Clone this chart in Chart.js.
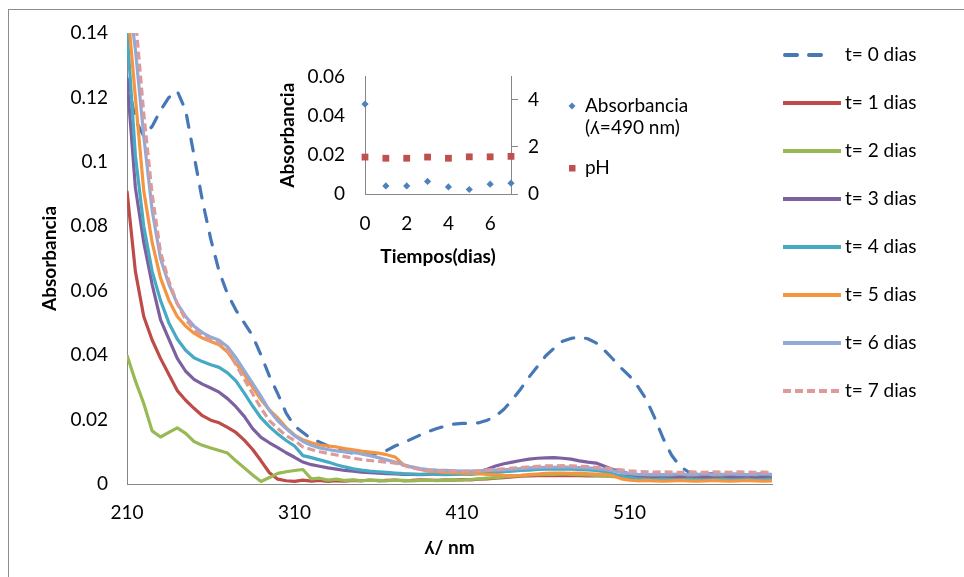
<!DOCTYPE html>
<html>
<head>
<meta charset="utf-8">
<script src="https://cdn.jsdelivr.net/npm/chart.js@4.4.1/dist/chart.umd.min.js"></script>
<style>
  body { margin: 0; background: #fff; }
  #wrap { position: relative; width: 964px; height: 577px; overflow: hidden; background: #fff; }
  #frame { position: absolute; left: 8px; top: 9px; width: 990px; height: 600px; border: 1px solid #8c8c8c; }
  #main { position: absolute; left: 0; top: 0; }
  #inset { position: absolute; left: 262px; top: 45px; }
</style>
</head>
<body>
<div id="wrap">
  <div id="frame"></div>
  <canvas id="main" width="964" height="577"></canvas>
  <canvas id="inset" width="440" height="230"></canvas>
</div>
<script>
// longitud de onda (nm), cada 5 nm
const wavelengths = [210,215,220,225,230,235,240,245,250,255,260,265,270,275,280,285,290,295,300,
  305,310,315,320,325,330,335,340,345,350,355,360,365,370,375,380,385,390,395,400,
  405,410,415,420,425,430,435,440,445,450,455,460,465,470,475,480,485,490,495,500,
  505,510,515,520,525,530,535,540,545,550,555,560,565,570,575,580,585,590,595];

const t0Dias = [0.126,0.113,0.108,0.111,0.116,0.120,0.122,0.116,0.102,0.088,0.076,0.066,0.059,0.054,0.050,0.046,0.040,0.0335,0.028,
  0.022,0.018,0.016,0.014,0.013,0.0118,0.0108,0.0101,0.0095,0.0093,0.0090,0.0094,0.0104,0.0118,0.0128,0.0140,0.0152,0.0163,0.0172,0.0180,
  0.0186,0.0188,0.0188,0.0190,0.0198,0.0210,0.0232,0.0262,0.0295,0.0332,0.0365,0.0398,0.0422,0.0443,0.0452,0.0456,0.0451,0.0438,0.0415,0.0388,
  0.0360,0.0335,0.0302,0.0262,0.0205,0.0142,0.0090,0.0055,0.0038,0.0032,0.0030,0.0032,0.0029,0.0030,0.0031,0.0028,0.0030,0.0031,0.0030];

const t1Dias = [0.091,0.066,0.052,0.0447,0.039,0.034,0.029,0.026,0.0235,0.0212,0.0198,0.0190,0.0176,0.0160,0.0136,0.0107,0.0072,0.0035,0.0015,
  0.0010,0.0008,0.0012,0.0009,0.0011,0.0008,0.0010,0.0009,0.0011,0.0010,0.0012,0.0010,0.0011,0.0012,0.0010,0.0011,0.0013,0.0012,0.0011,0.0013,
  0.0012,0.0014,0.0013,0.0015,0.0016,0.0018,0.0020,0.0022,0.0024,0.0025,0.0026,0.0026,0.0027,0.0026,0.0027,0.0026,0.0025,0.0026,0.0025,0.0024,
  0.0025,0.0024,0.0026,0.0025,0.0027,0.0026,0.0028,0.0027,0.0026,0.0028,0.0027,0.0029,0.0026,0.0028,0.0030,0.0027,0.0029,0.0031,0.0028];

const t2Dias = [0.040,0.032,0.025,0.0165,0.0146,0.0160,0.0174,0.0157,0.0132,0.0120,0.0112,0.0104,0.0096,0.0072,0.0050,0.0028,0.0008,0.0020,0.0033,
  0.0038,0.0042,0.0045,0.0016,0.0018,0.0012,0.0015,0.0011,0.0013,0.0010,0.0012,0.0011,0.0010,0.0012,0.0011,0.0010,0.0011,0.0012,0.0010,0.0012,
  0.0013,0.0012,0.0014,0.0016,0.0018,0.0020,0.0022,0.0024,0.0026,0.0028,0.0029,0.0030,0.0030,0.0031,0.0030,0.0029,0.0028,0.0027,0.0025,0.0023,
  0.0021,0.0020,0.0019,0.0018,0.0019,0.0018,0.0019,0.0018,0.0020,0.0019,0.0018,0.0020,0.0019,0.0018,0.0020,0.0019,0.0018,0.0020,0.0019];

const t3Dias = [0.126,0.092,0.075,0.062,0.051,0.045,0.039,0.035,0.0325,0.0310,0.0298,0.0285,0.0265,0.0240,0.0210,0.0172,0.0145,0.0128,0.0113,
  0.0097,0.0083,0.0068,0.0060,0.0055,0.0050,0.0046,0.0042,0.0040,0.0037,0.0035,0.0034,0.0032,0.0031,0.0030,0.0030,0.0029,0.0030,0.0031,0.0030,
  0.0032,0.0031,0.0033,0.0038,0.0046,0.0056,0.0063,0.0068,0.0073,0.0077,0.0080,0.0081,0.0082,0.0080,0.0077,0.0072,0.0068,0.0065,0.0055,0.0045,
  0.0040,0.0030,0.0022,0.0019,0.0018,0.0019,0.0018,0.0020,0.0019,0.0018,0.0020,0.0019,0.0018,0.0020,0.0019,0.0021,0.0019,0.0020,0.0019];

const t4Dias = [0.141,0.102,0.080,0.066,0.057,0.050,0.045,0.0415,0.0392,0.0380,0.0370,0.0362,0.0345,0.0320,0.0282,0.0242,0.0205,0.0178,0.0155,
  0.0135,0.0118,0.0088,0.0082,0.0075,0.0068,0.0060,0.0053,0.0047,0.0043,0.0040,0.0038,0.0036,0.0034,0.0032,0.0031,0.0030,0.0031,0.0030,0.0029,
  0.0030,0.0031,0.0030,0.0032,0.0034,0.0036,0.0038,0.0040,0.0042,0.0043,0.0045,0.0046,0.0046,0.0047,0.0046,0.0045,0.0044,0.0042,0.0038,0.0032,
  0.0025,0.0020,0.0017,0.0015,0.0014,0.0015,0.0014,0.0013,0.0015,0.0014,0.0013,0.0014,0.0015,0.0013,0.0014,0.0015,0.0013,0.0014,0.0015];

const t5Dias = [0.150,0.120,0.091,0.075,0.064,0.057,0.052,0.0490,0.0468,0.0453,0.0442,0.0432,0.0410,0.0375,0.0340,0.0300,0.0262,0.0230,0.0205,
  0.0175,0.0152,0.0137,0.0128,0.0121,0.0118,0.0115,0.0110,0.0106,0.0102,0.0099,0.0096,0.0091,0.0084,0.0060,0.0052,0.0045,0.0040,0.0038,0.0036,
  0.0035,0.0034,0.0033,0.0032,0.0030,0.0029,0.0027,0.0026,0.0027,0.0029,0.0031,0.0033,0.0034,0.0034,0.0033,0.0034,0.0032,0.0031,0.0030,0.0026,
  0.0016,0.0012,0.0010,0.0011,0.0010,0.0009,0.0010,0.0011,0.0010,0.0009,0.0010,0.0011,0.0010,0.0009,0.0010,0.0011,0.0010,0.0009,0.0010];

const t6Dias = [0.155,0.135,0.108,0.085,0.070,0.062,0.056,0.052,0.049,0.0470,0.0456,0.0446,0.0426,0.0392,0.0352,0.0312,0.0272,0.0228,0.0196,
  0.0172,0.0150,0.0132,0.0120,0.0112,0.0107,0.0103,0.0100,0.0098,0.0093,0.0088,0.0082,0.0075,0.0068,0.0060,0.0053,0.0048,0.0045,0.0043,0.0042,
  0.0041,0.0040,0.0040,0.0041,0.0042,0.0043,0.0044,0.0046,0.0048,0.0050,0.0051,0.0052,0.0052,0.0053,0.0052,0.0051,0.0050,0.0048,0.0045,0.0041,
  0.0036,0.0032,0.0030,0.0029,0.0030,0.0029,0.0030,0.0031,0.0029,0.0030,0.0031,0.0029,0.0030,0.0031,0.0030,0.0029,0.0030,0.0031,0.0030];

const t7Dias = [0.160,0.145,0.115,0.090,0.072,0.063,0.056,0.051,0.048,0.0460,0.0447,0.0437,0.0415,0.0370,0.0325,0.0280,0.0235,0.0197,0.0172,
  0.0150,0.0135,0.0115,0.0107,0.0100,0.0095,0.0090,0.0085,0.0080,0.0076,0.0073,0.0070,0.0068,0.0065,0.0058,0.0050,0.0045,0.0042,0.0041,0.0040,
  0.0040,0.0039,0.0040,0.0041,0.0043,0.0045,0.0047,0.0049,0.0051,0.0053,0.0055,0.0056,0.0056,0.0057,0.0056,0.0055,0.0054,0.0052,0.0050,0.0047,
  0.0044,0.0041,0.0039,0.0038,0.0037,0.0038,0.0037,0.0036,0.0038,0.0037,0.0036,0.0038,0.0037,0.0036,0.0038,0.0037,0.0036,0.0037,0.0036];

const seriesLabels = ['t= 0 dias','t= 1 dias','t= 2 dias','t= 3 dias','t= 4 dias','t= 5 dias','t= 6 dias','t= 7 dias'];
const xTicks = [210, 310, 410, 510];
const yTicks = [0, 0.02, 0.04, 0.06, 0.08, 0.1, 0.12, 0.14];

// grafico pequeño
const dias = [0, 1, 2, 3, 4, 5, 6, 7];
const absorbancia490 = [0.0459, 0.0041, 0.0041, 0.0064, 0.0036, 0.0023, 0.0050, 0.0055];
const ph = [1.57, 1.52, 1.52, 1.57, 1.52, 1.58, 1.58, 1.60];
const diasTicks = [0, 2, 4, 6];
const absTicks = [0, 0.02, 0.04, 0.06];
const phTicks = [0, 2, 4];

const FONT = "Lato, 'DejaVu Sans', sans-serif";
Chart.defaults.font.family = FONT;
Chart.defaults.color = '#000';

const colores = ['#4677B6', '#BE4B48', '#98B954', '#7D60A0', '#46AAC5', '#F59540', '#93A9D7', '#DC9A98'];
const dashes = [[12, 12], [], [], [], [], [], [], [8, 4]];
const caps = ['round', 'butt', 'butt', 'butt', 'butt', 'butt', 'butt', 'butt'];
const series = [t0Dias, t1Dias, t2Dias, t3Dias, t4Dias, t5Dias, t6Dias, t7Dias];

const toPoints = ys => ys.map((y, i) => ({ x: wavelengths[i], y: y }));
const fmt = v => String(+(+v).toFixed(2));

const sideLegend = {
    id: 'sideLegend',
    afterDraw(chart) {
        const ctx = chart.ctx;
        ctx.save();
        chart.data.datasets.forEach((ds, i) => {
            const y = 55 + i * 48;
            ctx.beginPath();
            ctx.setLineDash(ds.borderDash || []);
            ctx.lineCap = ds.borderCapStyle;
            ctx.lineWidth = 4;
            ctx.strokeStyle = ds.borderColor;
            ctx.moveTo(i === 0 ? 785 : 783, y);
            ctx.lineTo(i === 0 ? 828 : 841, y);
            ctx.stroke();
            ctx.setLineDash([]);
            ctx.fillStyle = '#000';
            ctx.font = '19px ' + FONT;
            ctx.textBaseline = 'middle';
            ctx.fillText(ds.label, 845, y);
        });
        ctx.restore();
    }
};

new Chart(document.getElementById('main'), {
    type: 'line',
    data: {
        datasets: series.map((s, i) => ({
            label: seriesLabels[i],
            data: toPoints(s),
            borderColor: colores[i],
            backgroundColor: colores[i],
            borderWidth: 3.2,
            borderDash: dashes[i],
            borderCapStyle: caps[i],
            borderJoinStyle: 'round',
            pointRadius: 0,
            fill: false,
            tension: 0,
            order: 7 - i
        }))
    },
    options: {
        responsive: false,
        animation: false,
        devicePixelRatio: 1,
        layout: { padding: { top: 33, right: 192, left: 0, bottom: 0 } },
        plugins: { legend: { display: false }, tooltip: { enabled: false } },
        scales: {
            x: {
                type: 'linear', min: 210, max: 595,
                afterBuildTicks: s => { s.ticks = xTicks.map(v => ({ value: v })); },
                afterFit: s => { s.height = 93; },
                grid: { display: false, drawTicks: false },
                border: { display: true, color: '#868686', width: 1 },
                ticks: { padding: 17, font: { size: 19 }, autoSkip: false, maxRotation: 0, callback: v => String(v) },
                title: { display: true, text: 'ʎ/ nm', font: { size: 19, weight: 'bold' }, padding: { top: 0, bottom: 17.6 } }
            },
            y: {
                min: 0, max: 0.14,
                afterBuildTicks: s => { s.ticks = yTicks.map(v => ({ value: v })); },
                afterFit: s => { s.width = 127; },
                grid: { display: false, drawTicks: false },
                border: { display: true, color: '#868686', width: 1 },
                ticks: { padding: 19, font: { size: 19 }, callback: fmt },
                title: { display: true, text: 'Absorbancia', font: { size: 19, weight: 'bold' }, padding: { top: 38.6, bottom: 0 } }
            }
        }
    },
    plugins: [sideLegend]
});

const insetLegend = {
    id: 'insetLegend',
    afterDraw(chart) {
        const ctx = chart.ctx;
        ctx.save();
        ctx.fillStyle = '#4F81BD';
        ctx.beginPath();
        ctx.moveTo(310, 57.5); ctx.lineTo(313.5, 61); ctx.lineTo(310, 64.5); ctx.lineTo(306.5, 61);
        ctx.closePath(); ctx.fill();
        ctx.fillStyle = '#C0504D';
        ctx.fillRect(307, 120, 6.5, 6.5);
        ctx.fillStyle = '#000';
        ctx.font = '19px ' + FONT;
        ctx.textBaseline = 'middle';
        ctx.fillText('Absorbancia', 323, 61);
        ctx.fillText('(ʎ=490 nm)', 323, 83);
        ctx.fillText('pH', 323, 123);
        ctx.restore();
    }
};

new Chart(document.getElementById('inset'), {
    type: 'scatter',
    data: {
        datasets: [
            {
                label: 'Absorbancia (ʎ=490 nm)',
                data: dias.map((d, i) => ({ x: d, y: absorbancia490[i] })),
                yAxisID: 'y',
                pointStyle: 'rectRot', pointRadius: 3.6,
                backgroundColor: '#4F81BD', borderColor: '#4F81BD', borderWidth: 0,
                clip: false
            },
            {
                label: 'pH',
                data: dias.map((d, i) => ({ x: d, y: ph[i] })),
                yAxisID: 'y1',
                pointStyle: 'rect', pointRadius: 4.8,
                backgroundColor: '#C0504D', borderColor: '#C0504D', borderWidth: 0,
                clip: false
            }
        ]
    },
    options: {
        responsive: false,
        animation: false,
        devicePixelRatio: 1,
        layout: { padding: { top: 18, right: 131, left: 0, bottom: 0 } },
        plugins: { legend: { display: false }, tooltip: { enabled: false } },
        scales: {
            x: {
                type: 'linear', min: 0, max: 7,
                afterBuildTicks: s => { s.ticks = diasTicks.map(v => ({ value: v })); },
                afterFit: s => { s.height = 81; },
                grid: { display: false, drawTicks: false },
                border: { display: true, color: '#868686', width: 1 },
                ticks: { padding: 18, font: { size: 19 }, callback: v => String(v) },
                title: { display: true, text: 'Tiempos(dias)', font: { size: 19, weight: 'bold' }, padding: { top: 0, bottom: 6.6 } }
            },
            y: {
                position: 'left', min: 0, max: 0.06,
                afterBuildTicks: s => { s.ticks = absTicks.map(v => ({ value: v })); },
                afterFit: s => { s.width = 103; },
                grid: { display: false, drawTicks: false },
                border: { display: true, color: '#868686', width: 1 },
                ticks: { padding: 20, font: { size: 19 }, callback: fmt },
                title: { display: true, text: 'Absorbancia', font: { size: 19, weight: 'bold' }, padding: { top: 14.6, bottom: 0 } }
            },
            y1: {
                position: 'right', min: 0, max: 5,
                afterBuildTicks: s => { s.ticks = phTicks.map(v => ({ value: v })); },
                afterFit: s => { s.width = 60; },
                grid: { display: true, drawOnChartArea: false, drawTicks: true, tickLength: 7, color: '#868686' },
                border: { display: true, color: '#868686', width: 1 },
                ticks: { padding: 10, font: { size: 19 }, callback: v => String(v) }
            }
        }
    },
    plugins: [insetLegend]
});
</script>
</body>
</html>
